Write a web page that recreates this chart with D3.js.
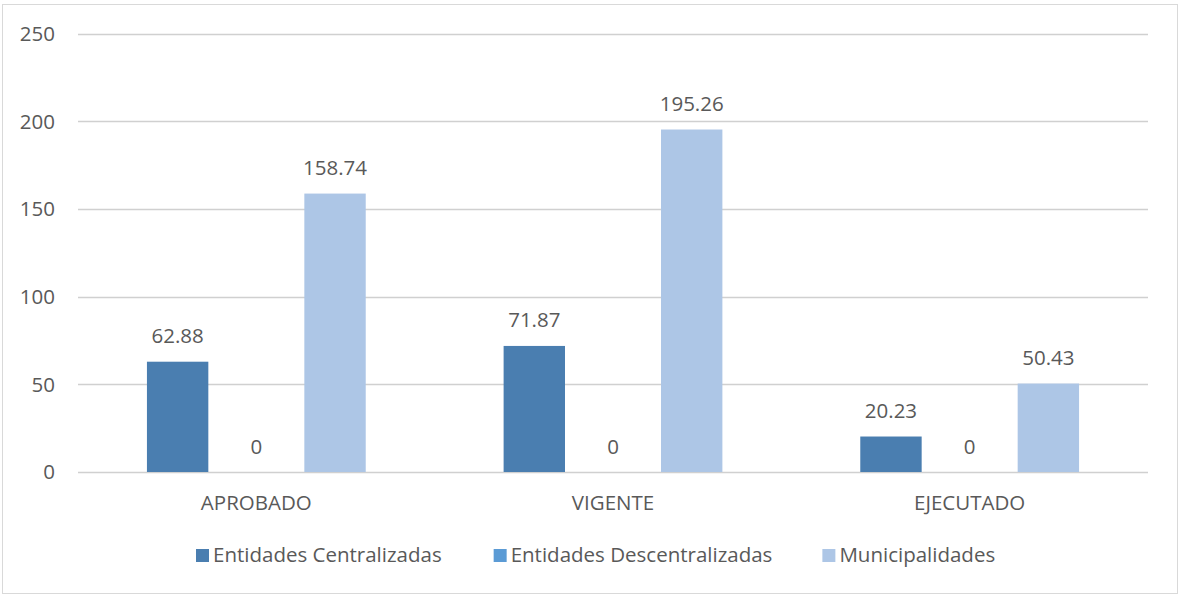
<!DOCTYPE html>
<html>
<head>
<meta charset="utf-8">
<script src="https://cdn.jsdelivr.net/npm/d3@7"></script>
<style>
  body { margin: 0; background: #fff; }
  text { font-family: "Open Sans", sans-serif; fill: #595959; }
</style>
</head>
<body>
<svg></svg>
<script>
// data
var categories = ["APROBADO", "VIGENTE", "EJECUTADO"];
var seriesNames = ["Entidades Centralizadas", "Entidades Descentralizadas", "Municipalidades"];
var centralizadas = [62.88, 71.87, 20.23];
var descentralizadas = [0, 0, 0];
var municipalidades = [158.74, 195.26, 50.43];
var yTicks = [0, 50, 100, 150, 200, 250];

var colors = ["#4A7EB0", "#5B9BD5", "#ADC6E6"];
var seriesValues = [centralizadas, descentralizadas, municipalidades];

let width = 1180, height = 595;
let fontSize = 20.5;

let svg = d3.select("svg")
    .attr("width", width)
    .attr("height", height);

// outer frame
svg.append("rect")
    .attr("x", 2.5).attr("y", 4.5)
    .attr("width", 1175).attr("height", 589)
    .attr("fill", "white")
    .attr("stroke", "#d9d9d9")
    .attr("stroke-width", 1);

let plotLeft = 78, plotRight = 1148, plotTop = 33.5, plotBottom = 472;

let y = d3.scaleLinear().domain([0, 250]).range([plotBottom, plotTop]);
let x0 = d3.scaleBand().domain(categories).range([plotLeft, plotRight]);
let x1 = d3.scaleBand().domain(d3.range(seriesNames.length))
    .range([0, x0.bandwidth()])
    .paddingInner(0.22)
    .paddingOuter(0.876);

// gridlines
svg.append("g")
    .selectAll("line")
    .data(yTicks)
    .enter()
    .append("line")
    .attr("x1", plotLeft).attr("x2", plotRight)
    .attr("y1", d => Math.round(y(d)) + 0.5)
    .attr("y2", d => Math.round(y(d)) + 0.5)
    .attr("stroke", "#d0d0d0")
    .attr("stroke-width", 1.5);

// y tick labels
svg.append("g")
    .selectAll("text")
    .data(yTicks)
    .enter()
    .append("text")
    .attr("x", 55)
    .attr("y", d => y(d))
    .attr("dy", "0.36em")
    .attr("text-anchor", "end")
    .style("font-size", fontSize + "px")
    .text(d => d);

// bars + labels
let rows = [];
categories.forEach((c, i) => {
    seriesValues.forEach((vals, s) => {
        rows.push({cat: c, s: s, v: vals[i]});
    });
});

svg.append("g")
    .selectAll("rect")
    .data(rows.filter(d => d.v > 0))
    .enter()
    .append("rect")
    .attr("x", d => x0(d.cat) + x1(d.s))
    .attr("y", d => y(d.v))
    .attr("width", x1.bandwidth())
    .attr("height", d => y(0) - y(d.v))
    .attr("fill", d => colors[d.s]);

svg.append("g")
    .selectAll("text")
    .data(rows)
    .enter()
    .append("text")
    .attr("x", d => x0(d.cat) + x1(d.s) + x1.bandwidth() / 2)
    .attr("y", d => y(d.v) - 18.5)
    .attr("text-anchor", "middle")
    .style("font-size", fontSize + "px")
    .text(d => d.v);

// category labels
svg.append("g")
    .selectAll("text")
    .data(categories)
    .enter()
    .append("text")
    .attr("x", d => x0(d) + x0.bandwidth() / 2)
    .attr("y", 510)
    .attr("text-anchor", "middle")
    .style("font-size", fontSize + "px")
    .text(d => d);

// legend
let legend = svg.append("g");
let lx = 196;
let gaps = [52, 50];
seriesNames.forEach((name, i) => {
    legend.append("rect")
        .attr("x", lx).attr("y", 549)
        .attr("width", 13).attr("height", 13)
        .attr("fill", colors[i]);
    let t = legend.append("text")
        .attr("x", lx + 17)
        .attr("y", 562)
        .style("font-size", fontSize + "px")
        .text(name);
    lx = lx + 17 + t.node().getComputedTextLength() + (gaps[i] || 0);
});
</script>
</body>
</html>
